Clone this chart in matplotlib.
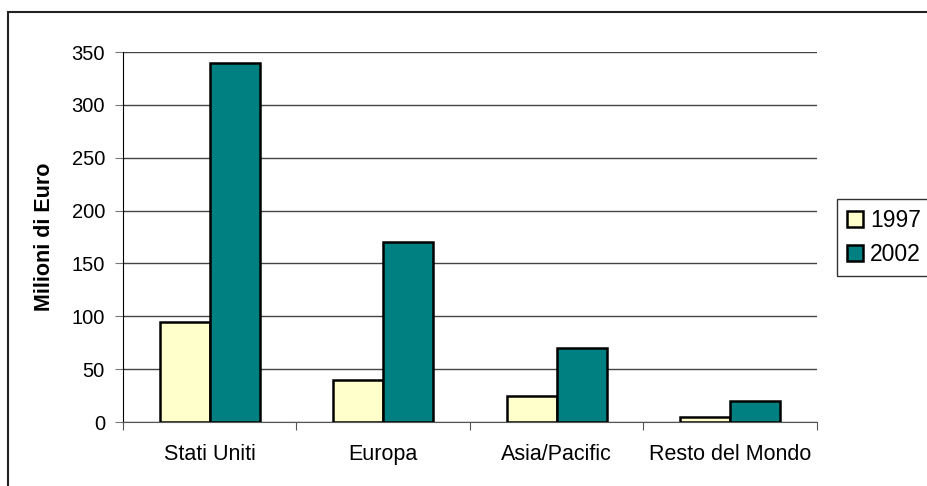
import matplotlib
matplotlib.use("Agg")
import matplotlib.pyplot as plt
from matplotlib.patches import Rectangle, Patch
import numpy as np

categories = ["Stati Uniti", "Europa", "Asia/Pacific", "Resto del Mondo"]
series_names = ["1997", "2002"]
values_1997 = [95, 40, 25, 5]
values_2002 = [340, 170, 70, 20]
y_ticks = [0, 50, 100, 150, 200, 250, 300, 350]
colors = ["#FFFFCC", "#008080"]

plt.rcParams['font.family'] = ['Liberation Sans', 'DejaVu Sans']

W, H = 928, 486
fig = plt.figure(figsize=(W/100, H/100), dpi=100)
ax = fig.add_axes([123/W, 1-422/H, (817-123)/W, (422-52)/H])

x = np.arange(len(categories))
bw = 0.288
ax.bar(x - bw/2, values_1997, bw, color=colors[0], edgecolor="black", linewidth=1.8, zorder=3)
ax.bar(x + bw/2, values_2002, bw, color=colors[1], edgecolor="black", linewidth=1.8, zorder=3)

ax.set_xlim(-0.5, len(categories) - 0.5)
ax.set_ylim(0, 350)
ax.set_yticks(y_ticks)
ax.set_yticklabels([str(v) for v in y_ticks], fontsize=14.5)
ax.yaxis.grid(True, color="#444444", linewidth=1, zorder=0)
ax.set_axisbelow(True)

ax.set_xticks(np.arange(-0.5, len(categories)))
ax.set_xticklabels([])
ax.set_xticks(x, minor=True)
ax.set_xticklabels(categories, minor=True, fontsize=15.5)
ax.tick_params(axis='x', which='major', length=6, color="#555555", direction='out')
ax.tick_params(axis='x', which='minor', length=0, pad=16)
ax.tick_params(axis='y', length=6, color="#777777", pad=7)

for s in ["top", "right"]:
    ax.spines[s].set_visible(False)
ax.spines["left"].set_color("black")
ax.spines["bottom"].set_color("#555555")

ax.set_ylabel("Milioni di Euro", fontsize=15.5, fontweight="bold", labelpad=12)

# outer chart border
fig.patches.append(Rectangle((8/W, -0.05), 1.1, 1 - 12/H + 0.05, transform=fig.transFigure,
                             fill=False, edgecolor="#222222", linewidth=1.5))

handles = [Patch(facecolor=colors[i], edgecolor="black", linewidth=1.8) for i in range(2)]
leg = fig.legend(handles, series_names, loc="upper left",
                 bbox_to_anchor=(837/W, 1-199/H - 0.01, 110/W, 0.01), mode="expand",
                 frameon=True, fancybox=False, edgecolor="black", fontsize=16.5,
                 handlelength=0.7, handleheight=0.7, handletextpad=0.3, borderpad=0.45,
                 labelspacing=0.45, borderaxespad=0)
leg.get_frame().set_linewidth(1)

fig.savefig("out.png", dpi=100)
